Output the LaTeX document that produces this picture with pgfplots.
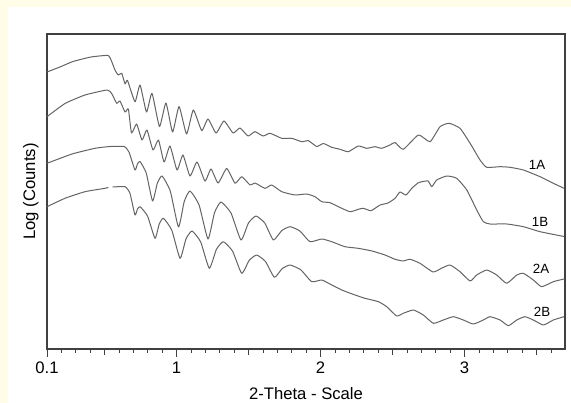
\documentclass[border=0pt]{standalone}
\usepackage{fontspec}
\setmainfont{Liberation Sans}
\usepackage{pgfplots}
\pgfplotsset{compat=1.18}
\definecolor{bgyellow}{RGB}{255,252,232}
\definecolor{curvegray}{RGB}{100,100,100}
\tikzset{curve/.style={curvegray, line width=0.75pt, line join=round, line cap=round, smooth, tension=0.3, mark=none}}
\begin{document}
\begin{tikzpicture}
\path[use as bounding box] (0,0) rectangle (428.25pt,302.25pt);
\fill[bgyellow] (0,0) rectangle (428.25pt,302.25pt);
\fill[white] (6pt,0) rectangle (428.25pt,297pt);
\begin{axis}[
  at={(35.25pt,40.5pt)}, anchor=south west, scale only axis,
  width=388.5pt, height=236.25pt,
  xmin=0.1, xmax=3.697, ymin=0, ymax=315,
  axis line style={black!75, line width=0.8pt},
  ytick=\empty,
  xtick={0.1,1,2,3}, xticklabels={0.1,1,2,3},
  minor xtick={0.2,0.3,0.4,0.6,0.7,0.8,0.9,1.1,1.2,1.3,1.4,1.6,1.7,1.8,1.9,2.1,2.2,2.3,2.4,2.6,2.7,2.8,2.9,3.1,3.2,3.3,3.4,3.6},
  extra x ticks={0.5,1.5,2.5,3.5},
  extra x tick labels={,,,},
  extra x tick style={major tick length=4.5pt},
  xtick pos=left, tick align=outside,
  major tick length=6pt, minor tick length=3pt,
  tick style={black!75, line width=0.7pt},
  xticklabel style={font=\fontsize{12.5pt}{14pt}\selectfont},
  xlabel={2-Theta - Scale},
  ylabel={Log (Counts)},
  xlabel style={font=\fontsize{12.5pt}{14pt}\selectfont, at={(axis description cs:0.5,-0.1413)}, anchor=center},
  ylabel style={font=\fontsize{12.5pt}{14pt}\selectfont, at={(axis description cs:-0.031,0.5)}, anchor=center},
  unbounded coords=jump,
  clip=false,
]
% 1A
\addplot[curve] coordinates {(0.100,277) (0.190,282) (0.281,287.5) (0.406,292) (0.524,293.5) (0.549,287.5) (0.572,279) (0.595,274) (0.619,275.7) (0.642,265) (0.659,268.5) (0.711,247.3) (0.746,264) (0.791,237) (0.829,255.7) (0.881,222.5) (0.926,246) (0.972,217) (1.017,242.5) (1.069,215) (1.116,239) (1.174,218.5) (1.218,230) (1.274,216) (1.329,228) (1.392,216) (1.440,221) (1.496,213) (1.544,217.3) (1.600,213) (1.649,215.7) (1.730,210.7) (1.799,210.7) (1.869,207.3) (1.915,208.3) (1.973,202.5) (2.019,205.5) (2.077,201.7) (2.135,199.7) (2.192,197.3) (2.262,203) (2.320,200.7) (2.378,202.3) (2.424,200.7) (2.482,204) (2.517,206.5) (2.574,199.7) (2.679,214) (2.760,207.3) (2.829,222.3) (2.892,225.7) (2.968,220.7) (3.038,205.7) (3.107,189) (3.153,181.7) (3.246,182.3) (3.315,181.7) (3.408,179) (3.524,172.3) (3.616,165.7) (3.690,160.7)};
% 1B
\addplot[curve] coordinates {(0.100,232.3) (0.225,245.5) (0.364,254) (0.517,259) (0.549,255.5) (0.584,245.7) (0.607,248) (0.642,237) (0.665,240) (0.687,216) (0.722,225) (0.760,209) (0.794,219) (0.836,199) (0.874,209) (0.913,187) (0.954,203) (1.003,179) (1.044,194) (1.093,173) (1.142,187) (1.197,168) (1.239,180) (1.288,166) (1.348,180.5) (1.406,165.7) (1.452,172.3) (1.510,164) (1.544,166) (1.614,160.7) (1.660,164) (1.730,157.3) (1.822,154) (1.903,155) (1.961,152.3) (2.008,147.3) (2.065,146.3) (2.123,142.3) (2.204,137.3) (2.262,139.7) (2.297,140.7) (2.350,138.3) (2.413,144) (2.468,146) (2.517,150.7) (2.551,157) (2.593,154) (2.633,160.7) (2.676,166) (2.704,167.3) (2.746,168) (2.772,162.3) (2.806,169) (2.876,173) (2.945,170.7) (3.015,159) (3.084,139) (3.130,127.3) (3.176,125) (3.292,125) (3.408,122.3) (3.524,117.3) (3.690,112.5)};
% 2A
\addplot[curve] coordinates {(0.100,185.7) (0.274,195) (0.433,200.7) (0.538,202.5) (0.635,202.5) (0.669,197) (0.711,179) (0.728,185) (0.746,187.5) (0.789,176) (0.833,148) (0.866,165.7) (0.899,173) (0.956,158) (1.013,122) (1.053,147.5) (1.093,158) (1.156,144) (1.218,110) (1.263,136.2) (1.308,147) (1.378,135.9) (1.447,109) (1.499,126) (1.551,133) (1.612,126) (1.672,109) (1.730,118.4) (1.788,122.3) (1.857,117.9) (1.926,107.3) (2.008,110) (2.077,107.3) (2.169,102.3) (2.260,100.7) (2.357,98) (2.447,94) (2.517,89.7) (2.572,88) (2.621,89.7) (2.690,85.7) (2.781,77) (2.843,81) (2.899,84) (2.968,77.3) (3.038,68) (3.084,74) (3.153,79) (3.223,74) (3.292,65.7) (3.362,74) (3.408,75.7) (3.477,69) (3.535,62.3) (3.616,67.3) (3.690,70)};
% 2B
\addplot[curve] coordinates {(0.100,142.3) (0.225,150.7) (0.364,157.3) (0.503,160.7) (0.524,161.5) (0.540,nan) (0.558,162) (0.642,162.3) (0.676,155.7) (0.711,134) (0.728,139.9) (0.746,142.3) (0.798,133) (0.850,110.7) (0.879,124.8) (0.908,130.7) (0.966,119) (1.024,90.7) (1.065,110) (1.107,118) (1.167,107.1) (1.227,80.7) (1.276,99.5) (1.324,107.3) (1.388,98) (1.452,75.7) (1.504,88.6) (1.556,94) (1.617,87.5) (1.679,71.7) (1.733,80.4) (1.788,84) (1.863,79.1) (1.938,67.3) (2.008,69) (2.077,64) (2.147,59) (2.239,54) (2.308,50.7) (2.401,47.3) (2.459,42.3) (2.528,33) (2.574,35.7) (2.644,39) (2.713,34) (2.783,25.7) (2.852,29) (2.922,32.3) (2.991,29) (3.060,25) (3.130,29) (3.176,32.3) (3.246,29) (3.304,23.3) (3.362,29) (3.419,32.3) (3.477,29) (3.547,24) (3.616,29) (3.690,32.3)};
\node[font=\fontsize{10pt}{12pt}\selectfont] at (axis cs:3.503,184) {1A};
\node[font=\fontsize{10pt}{12pt}\selectfont] at (axis cs:3.524,127) {1B};
\node[font=\fontsize{10pt}{12pt}\selectfont] at (axis cs:3.531,80) {2A};
\node[font=\fontsize{10pt}{12pt}\selectfont] at (axis cs:3.538,37) {2B};
\end{axis}
\end{tikzpicture}
\end{document}
